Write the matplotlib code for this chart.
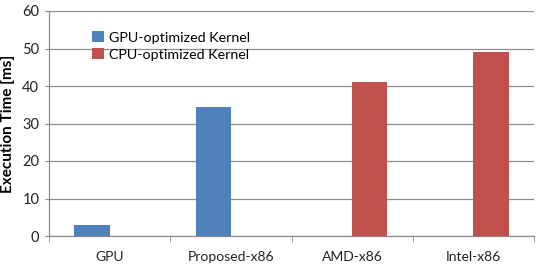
import matplotlib
matplotlib.use("Agg")
import matplotlib.pyplot as plt
import numpy as np

categories = ["GPU", "Proposed-x86", "AMD-x86", "Intel-x86"]
gpu_kernel = [2.85, 34.3, 0.0, 0.0]
cpu_kernel = [0.0, 0.0, 41.0, 49.2]
series_names = ["GPU-optimized Kernel", "CPU-optimized Kernel"]

BLUE = "#4F81BD"
RED = "#C0504D"
GRID = "#8c8c8c"

plt.rcParams["font.family"] = ["Lato", "DejaVu Sans"]

fig = plt.figure(figsize=(5.37, 2.64), dpi=100)
ax = fig.add_axes([49 / 537, 28 / 264, 485 / 537, 225 / 264])

x = np.arange(len(categories))
w = 0.29
ax.bar(x - w / 2, gpu_kernel, width=w, color=BLUE, label=series_names[0], zorder=3)
ax.bar(x + w / 2, cpu_kernel, width=w, color=RED, label=series_names[1], zorder=3)

ax.set_xlim(-0.5, len(categories) - 0.5)
ax.set_ylim(0, 60)
ax.set_yticks(range(0, 61, 10))
ax.yaxis.grid(True, color=GRID, linewidth=0.9, zorder=0)
ax.set_axisbelow(True)

ax.set_xticks(x)
ax.set_xticklabels(categories)
ax.set_xticks(np.arange(len(categories) + 1) - 0.5, minor=True)
ax.tick_params(axis="x", which="major", length=0, pad=11, labelsize=10, colors="#222222")
ax.tick_params(axis="x", which="minor", length=4, color=GRID, direction="out")
ax.tick_params(axis="y", length=3, color=GRID, labelsize=10.5, pad=4, colors="#222222")

for side in ("top", "right"):
    ax.spines[side].set_visible(False)
for side in ("left", "bottom"):
    ax.spines[side].set_color(GRID)
    ax.spines[side].set_linewidth(0.9)

ax.set_ylabel("Execution Time [ms]", fontweight="bold", fontsize=11, labelpad=5)

leg = ax.legend(loc="upper left", bbox_to_anchor=(0.077, 0.935), frameon=False,
                fontsize=10.3, handlelength=0.8, handleheight=0.8,
                handletextpad=0.4, labelspacing=0.3, borderaxespad=0)

fig.savefig("out.png", dpi=100)
